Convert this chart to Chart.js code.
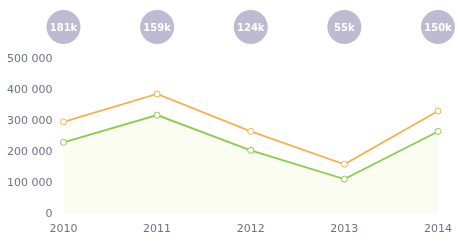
<!DOCTYPE html>
<html>
<head>
<meta charset="utf-8">
<script src="https://cdn.jsdelivr.net/npm/chart.js@4/dist/chart.umd.min.js"></script>
<style>
  html, body { margin: 0; padding: 0; background: #ffffff; }
  #wrap { width: 458px; height: 242px; }
</style>
</head>
<body>
<div id="wrap"><canvas id="c" width="458" height="242"></canvas></div>
<script>
const years = ['2010', '2011', '2012', '2013', '2014'];
const orangeValues = [297000, 387000, 266000, 160000, 332000];
const greenValues = [231000, 319000, 205000, 112000, 266000];
const bubbleLabels = ['181k', '159k', '124k', '55k', '150k'];

const bubblePlugin = {
  id: 'bubbles',
  afterDraw(chart) {
    const ctx = chart.ctx;
    const xs = chart.scales.x;
    ctx.save();
    bubbleLabels.forEach((t, i) => {
      const x = xs.getPixelForValue(i);
      const y = 27;
      ctx.beginPath();
      ctx.arc(x, y, 17, 0, Math.PI * 2);
      ctx.fillStyle = '#bdbad2';
      ctx.fill();
      ctx.fillStyle = '#ffffff';
      ctx.font = 'bold 10px "DejaVu Sans", sans-serif';
      ctx.textAlign = 'center';
      ctx.textBaseline = 'middle';
      ctx.fillText(t, x, y + 1);
    });
    ctx.restore();
  }
};

new Chart(document.getElementById('c'), {
  type: 'line',
  data: {
    labels: years,
    datasets: [
      {
        label: 'A',
        data: orangeValues,
        borderColor: '#f2b24e',
        backgroundColor: '#ffffff',
        pointBackgroundColor: '#ffffff',
        pointBorderColor: '#f2b24e',
        pointRadius: 3,
        pointBorderWidth: 1,
        borderWidth: 1.8,
        tension: 0,
        fill: false
      },
      {
        label: 'B',
        data: greenValues,
        borderColor: '#8ccb4e',
        backgroundColor: 'rgba(220,238,170,0.15)',
        pointBackgroundColor: '#ffffff',
        pointBorderColor: '#8ccb4e',
        pointRadius: 3,
        pointBorderWidth: 1,
        borderWidth: 1.8,
        tension: 0,
        fill: 'origin'
      }
    ]
  },
  options: {
    responsive: false,
    animation: false,
    layout: { padding: { top: 59, right: 20, left: 4, bottom: 5 } },
    plugins: {
      legend: { display: false },
      tooltip: { enabled: false }
    },
    scales: {
      x: {
        offset: false,
        grid: { display: false },
        border: { display: false },
        ticks: {
          color: '#6b7385',
          font: { size: 11, family: '"DejaVu Sans", sans-serif' },
          padding: 1,
          maxRotation: 0
        }
      },
      y: {
        min: 0,
        max: 500000,
        grid: { display: false },
        border: { display: false },
        ticks: {
          stepSize: 100000,
          color: '#6b7385',
          font: { size: 11, family: '"DejaVu Sans", sans-serif' },
          padding: 3,
          callback: v => v === 0 ? '0' : String(v).replace(/\B(?=(\d{3})+(?!\d))/g, ' ')
        }
      }
    }
  },
  plugins: [bubblePlugin]
});
</script>
</body>
</html>
